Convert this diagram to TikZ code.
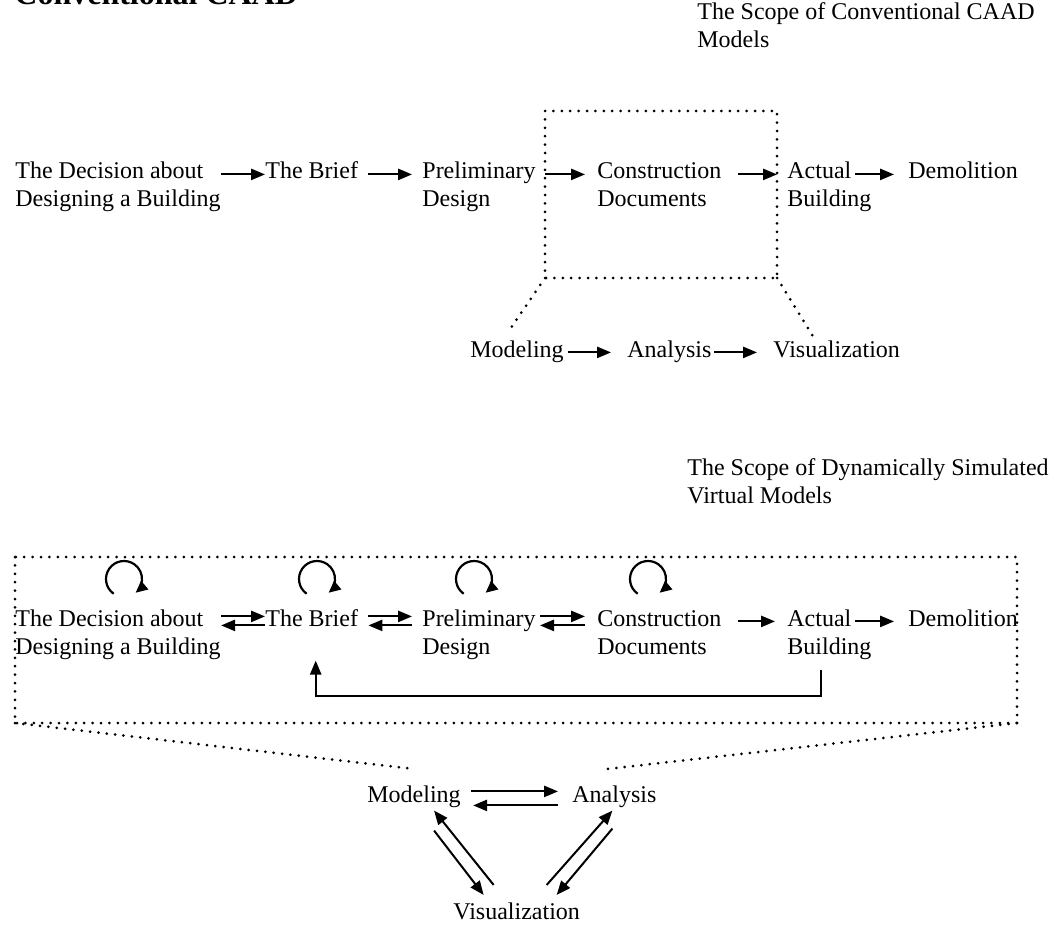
\documentclass[tikz,border=0pt]{standalone}
\usepackage{fontspec}
\setmainfont{Liberation Serif}
\usetikzlibrary{arrows.meta,calc}

\tikzset{
  stage/.style={align=left, inner sep=0pt, anchor=base west, font=\fontsize{12}{14}\selectfont},
  flow/.style={-{Triangle[length=7pt,width=5.6pt]}, line width=1pt},
  scopeline/.style={line width=1.5pt, line cap=round, dash pattern=on 0pt off 4.2pt},
  cycle/.style={-{Triangle[length=6pt,width=5.4pt]}, line width=1.1pt}
}

\begin{document}
\begin{tikzpicture}[x=0.5pt,y=-0.5pt]
  \path[fill=white,use as bounding box] (0,0) rectangle (1054,925);
  \clip (0,0) rectangle (1054,925);

  % heading, cut off by the page edge
  \node[anchor=base west, inner sep=0pt, font=\fontsize{16}{18}\selectfont\bfseries] (title) at (14,5) {Conventional CAAD};

  % --- conventional CAAD ---
  % two-line nodes sit on the baseline of their last line
  \node[stage] (scope1) at (697,48) {The Scope of Conventional CAAD\\Models};
  \node[stage] (dec1) at (15,207) {The Decision about\\Designing a Building};
  \node[stage] (brief1) at (265,179) {The Brief};
  \node[stage] (pre1) at (422,207) {Preliminary\\Design};
  \node[stage] (con1) at (597,207) {Construction\\Documents};
  \node[stage] (act1) at (787,207) {Actual\\Building};
  \node[stage] (dem1) at (908,179) {Demolition};

  \coordinate (b1nw) at (545,111);
  \coordinate (b1se) at (777,278);
  \draw[scopeline] (b1nw) rectangle (b1se);

  \draw[flow] (dec1.east |- brief1.mid west) -- (brief1.mid west);
  \draw[flow, shorten <=5pt, shorten >=5pt] (brief1.mid east) -- (pre1.west |- brief1.mid);
  \draw[flow, shorten >=6pt] (b1nw |- brief1.mid) -- (con1.west |- brief1.mid);
  \draw[flow, shorten <=8pt] (con1.east |- brief1.mid) -- (b1se |- brief1.mid);
  \draw[flow, shorten >=7pt] ($(dem1.mid west)+(-53,0)$) -- (dem1.mid west);

  \node[stage] (mod1) at (470,357) {Modeling};
  \node[stage] (ana1) at (627,357) {Analysis};
  \node[stage] (vis1) at (773,357) {Visualization};

  \draw[flow, shorten <=2pt, shorten >=8pt] (mod1.mid east) -- (ana1.mid west);
  \draw[flow, shorten <=1pt, shorten >=8pt] (ana1.mid east) -- (vis1.mid west);

  \draw[scopeline] (b1nw |- b1se) -- ($(mod1.north)+(-9,-8)$);
  \draw[scopeline] (b1se) -- ($(vis1.north)+(-24,-4)$);

  % --- dynamically simulated virtual models ---
  \node[stage] (scope2) at (687,503) {The Scope of Dynamically Simulated\\Virtual Models};
  \node[stage] (dec2) at (15,654) {The Decision about\\Designing a Building};
  \node[stage] (brief2) at (265,626) {The Brief};
  \node[stage] (pre2) at (422,654) {Preliminary\\Design};
  \node[stage] (con2) at (597,654) {Construction\\Documents};
  \node[stage] (act2) at (787,654) {Actual\\Building};
  \node[stage] (dem2) at (908,626) {Demolition};

  \coordinate (b2nw) at (15,557);
  \coordinate (b2se) at (1017,723);
  \draw[scopeline] (b2nw) rectangle (b2se);

  % iterations inside each stage
  \draw[cycle] ($(dec2.base west)+(109,-75)+(235:9pt)$) arc[start angle=235, end angle=-50, radius=9pt];
  \draw[cycle] ($(brief2.base west)+(52,-47)+(235:9pt)$) arc[start angle=235, end angle=-50, radius=9pt];
  \draw[cycle] ($(pre2.base west)+(52,-75)+(235:9pt)$) arc[start angle=235, end angle=-50, radius=9pt];
  \draw[cycle] ($(con2.base west)+(51,-75)+(235:9pt)$) arc[start angle=235, end angle=-50, radius=9pt];

  % two-way links
  \draw[flow] ($(dec2.east |- brief2.mid)+(0,-5)$) -- ($(brief2.mid west)+(0,-5)$);
  \draw[flow] ($(brief2.mid west)+(0,4)$) -- ($(dec2.east |- brief2.mid)+(0,4)$);
  \draw[flow, shorten <=5pt, shorten >=5pt] ($(brief2.mid east)+(0,-5)$) -- ($(pre2.west |- brief2.mid)+(0,-5)$);
  \draw[flow, shorten <=5pt, shorten >=5pt] ($(pre2.west |- brief2.mid)+(0,4)$) -- ($(brief2.mid east)+(0,4)$);
  \draw[flow, shorten >=6pt] ($(con2.west |- brief2.mid)+(-57,-5)$) -- ($(con2.west |- brief2.mid)+(0,-5)$);
  \draw[flow, shorten <=6pt] ($(con2.west |- brief2.mid)+(0,4)$) -- ($(con2.west |- brief2.mid)+(-57,4)$);
  \draw[flow, shorten <=8pt, shorten >=6pt] (con2.east |- brief2.mid) -- (act2.west |- brief2.mid);
  \draw[flow, shorten >=7pt] ($(dem2.mid west)+(-53,0)$) -- (dem2.mid west);

  % feedback from the building to the brief
  \draw[flow] ($(act2.south)+(-8,10)$) |- ($(brief2.south)+(4,69)$) -- ($(brief2.south)+(4,34)$);

  \node[stage] (mod2) at (367,802) {Modeling};
  \node[stage] (ana2) at (572,802) {Analysis};
  \node[stage] (vis2) at (453,919) {Visualization};

  \draw[scopeline] (b2nw |- b2se) -- ($(mod2.north)+(0,-16)$);
  \draw[scopeline] (b2se) -- ($(ana2.north)+(-7,-16)$);

  \draw[flow, shorten <=5pt, shorten >=7pt] ($(mod2.mid east)+(0,-6)$) -- ($(ana2.mid west)+(0,-6)$);
  \draw[flow, shorten <=7pt, shorten >=6pt] ($(ana2.mid west)+(0,8)$) -- ($(mod2.mid east)+(0,8)$);
  \draw[flow] ($(vis2.north)+(-23,-17)$) -- ($(mod2.south)+(20,3)$);
  \draw[flow] ($(mod2.south)+(20,23)$) -- ($(vis2.north)+(-33,-7)$);
  \draw[flow] ($(vis2.north)+(30,-17)$) -- ($(ana2.south)+(-2,3)$);
  \draw[flow] ($(ana2.south)+(-2,21)$) -- ($(vis2.north)+(40,-7)$);
\end{tikzpicture}
\end{document}
